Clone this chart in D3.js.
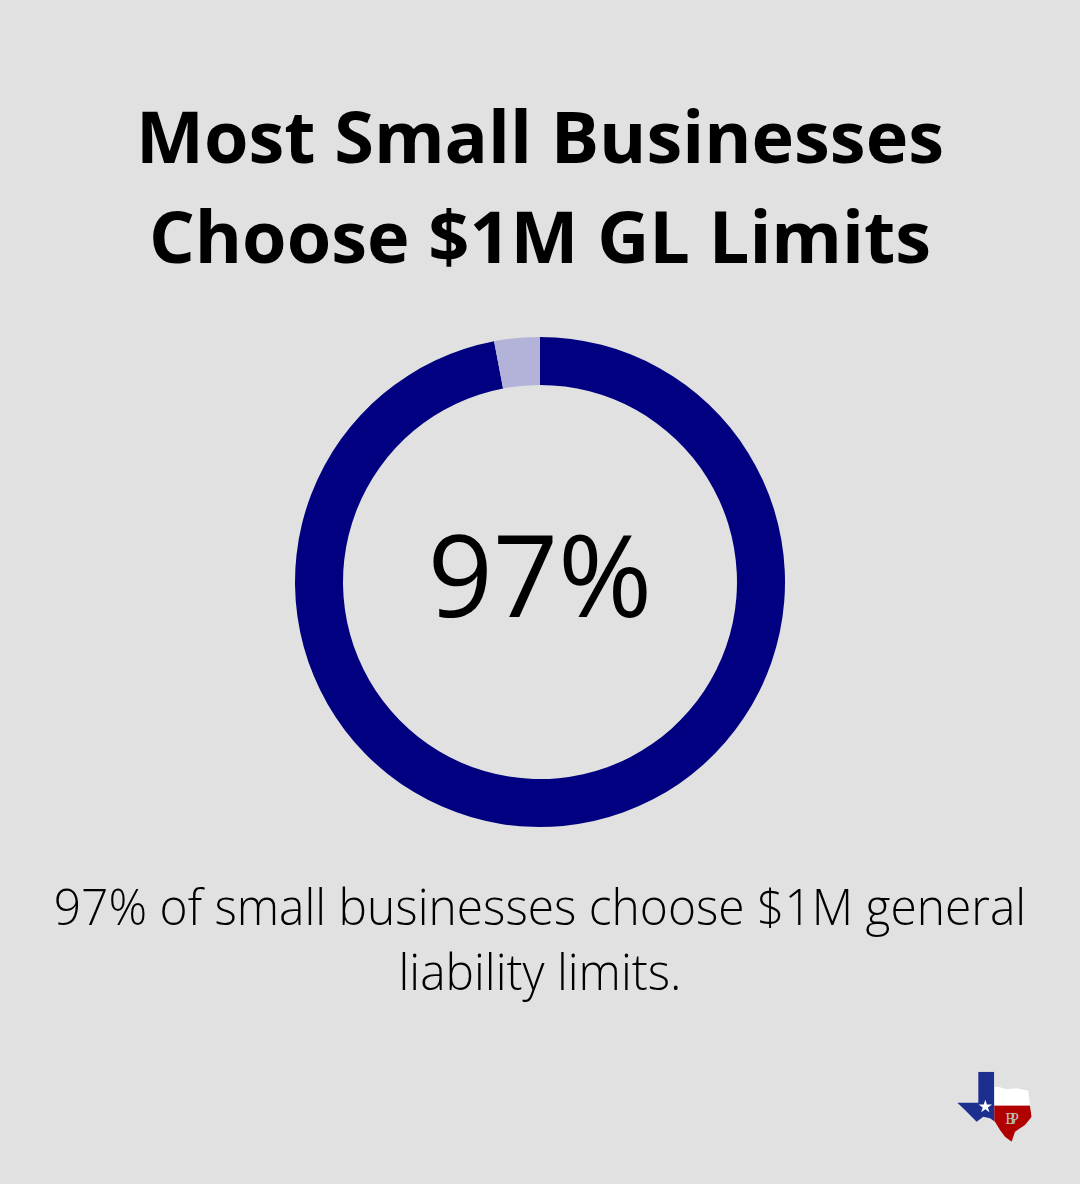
<!DOCTYPE html>
<html><head><meta charset="utf-8">
<script src="https://cdn.jsdelivr.net/npm/d3@7"></script>
<style>
html,body{margin:0;padding:0;background:#e0e1e0;}
svg{display:block;}
</style></head>
<body>
<script>
const titleLines = ["Most Small Businesses", "Choose $1M GL Limits"];
const categories = ["$1M limits", "Other limits"];
const values = [97, 3];
const centerLabel = "97%";
const captionLines = ["97% of small businesses choose $1M general", "liability limits."];

const W = 1080, H = 1184;
const svg = d3.select("body").append("svg").attr("width", W).attr("height", H);
svg.append("rect").attr("width", W).attr("height", H).attr("fill", "#e0e1e0");

svg.selectAll("text.title").data(titleLines).join("text")
  .attr("class", "title")
  .attr("x", 540).attr("y", (d, i) => 163 + i * 100)
  .attr("text-anchor", "middle")
  .attr("font-family", "'Open Sans', sans-serif")
  .attr("font-weight", 700)
  .attr("font-size", 72)
  .attr("fill", "#000")
  .text(d => d);

const color = d3.scaleOrdinal().domain(categories).range(["#000080", "#b3b3d9"]);
const pie = d3.pie().sort(null).value(d => d.v);
const arc = d3.arc().innerRadius(197).outerRadius(245);
const data = categories.map((c, i) => ({c, v: values[i]}));
const g = svg.append("g").attr("transform", "translate(540,582)");
g.selectAll("path").data(pie(data)).join("path")
  .attr("d", arc).attr("fill", d => color(d.data.c));

g.append("text").attr("x", 0).attr("y", 35)
  .attr("text-anchor", "middle")
  .attr("font-family", "'Open Sans', sans-serif")
  .attr("font-weight", 400)
  .attr("font-size", 114)
  .attr("fill", "#000")
  .text(centerLabel);

const caps = svg.selectAll("text.cap").data(captionLines).join("text")
  .attr("class", "cap")
  .attr("x", 540).attr("y", (d, i) => 925 + i * 65)
  .attr("text-anchor", "middle")
  .attr("font-family", "'Open Sans', sans-serif")
  .attr("font-weight", 300)
  .attr("font-size", 50)
  .attr("fill", "#000")
  .text(d => d);
caps.each(function() {
  const w = this.getComputedTextLength();
  d3.select(this).attr("textLength", w * 0.958).attr("lengthAdjust", "spacingAndGlyphs");
});

// logo
const tx = "M115,35 L163,35 L163,80 L180,82 L200,88 L230,85 L265,92 L270,140 L275,170 L255,195 L225,215 L215,245 L195,230 L180,210 L165,185 L150,175 L130,170 L110,185 L95,170 L75,150 L52,128 L115,128 Z";
const logo = svg.append("g").attr("transform", "translate(940,1060) scale(0.3333)");
logo.append("clipPath").attr("id", "tx").append("path").attr("d", tx);
const lg = logo.append("g").attr("clip-path", "url(#tx)");
lg.append("rect").attr("x", 40).attr("y", 20).attr("width", 123).attr("height", 240).attr("fill", "#1c2f8f");
lg.append("rect").attr("x", 163).attr("y", 20).attr("width", 130).attr("height", 117).attr("fill", "#ffffff");
lg.append("rect").attr("x", 163).attr("y", 137).attr("width", 130).attr("height", 130).attr("fill", "#b00000");
const star = d3.symbol().type(d3.symbolStar).size(500);
logo.append("path").attr("d", star()).attr("transform", "translate(136,140)").attr("fill", "#fff");
logo.append("text").attr("x", 196).attr("y", 192)
  .attr("font-family", "'Liberation Serif', serif").attr("font-size", 48)
  .attr("letter-spacing", -18).attr("fill", "#bbb").text("BP");
</script>
</body></html>
